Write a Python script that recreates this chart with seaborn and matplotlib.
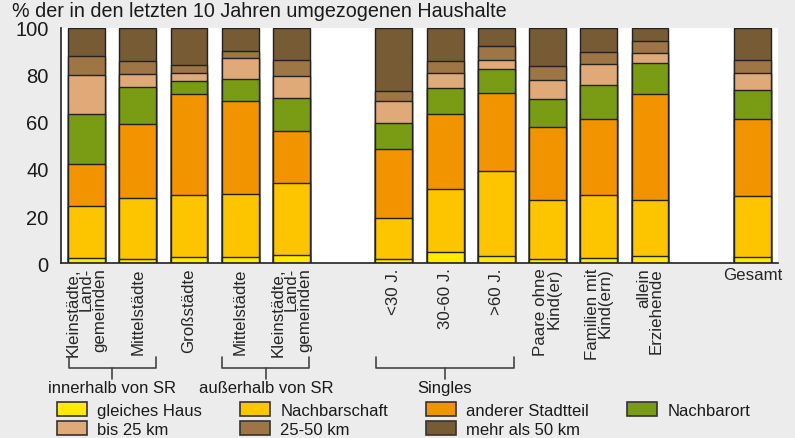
import matplotlib
matplotlib.use("Agg")
import matplotlib.pyplot as plt
import matplotlib.transforms as mtransforms
from matplotlib.patches import Patch
import pandas as pd
import seaborn as sns

# bar labels, left to right (gaps are added in the layout below)
bar_labels = [
    "Kleinstädte,\nLand-\ngemeinden", "Mittelstädte", "Großstädte", "Mittelstädte",
    "Kleinstädte,\nLand-\ngemeinden", "<30 J.", "30-60 J.", ">60 J.",
    "Paare ohne\nKind(er)", "Familien mit\nKind(ern)", "allein\nErziehende", "Gesamt",
]

# shares per category (% of households), bottom to top of each stack
gleiches_haus = [2.0, 1.7, 2.6, 2.4, 3.4, 1.7, 4.8, 3.0, 1.7, 2.1, 3.1, 2.4]
nachbarschaft = [22.4, 26.0, 26.2, 27.0, 30.8, 17.5, 26.6, 36.1, 24.9, 26.9, 23.7, 26.2]
anderer_stadtteil = [17.8, 31.4, 43.1, 39.5, 22.1, 29.5, 32.0, 33.1, 31.2, 32.4, 45.2, 32.8]
nachbarort = [21.3, 15.9, 5.7, 9.5, 14.0, 10.8, 11.2, 10.3, 11.9, 14.5, 13.1, 12.0]
bis_25km = [16.6, 5.4, 3.4, 9.0, 9.4, 9.4, 6.1, 4.0, 8.0, 8.8, 4.4, 7.6]
km_25_50 = [8.0, 5.7, 3.4, 2.7, 6.5, 4.4, 5.2, 5.7, 6.0, 4.9, 4.8, 5.2]
mehr_50km = [11.9, 13.9, 15.6, 9.9, 13.8, 26.7, 14.1, 7.8, 16.3, 10.4, 5.7, 13.8]

layer_names = ["gleiches Haus", "Nachbarschaft", "anderer Stadtteil", "Nachbarort",
               "bis 25 km", "25-50 km", "mehr als 50 km"]
layer_values = [gleiches_haus, nachbarschaft, anderer_stadtteil, nachbarort,
                bis_25km, km_25_50, mehr_50km]
layer_colors = ["#ffea00", "#fdc400", "#f29400", "#7a9c14", "#dfaa78", "#9e7544", "#765b35"]

# group brackets below the labels: (first bar, last bar, text)
brackets = [(0, 1, "innerhalb von SR"), (3, 4, "außerhalb von SR"), (5, 7, "Singles")]
blocks = [5, 6, 1]  # bars per block, separated by an empty slot

sns.set_style("white")
plt.rcParams["font.family"] = ["Liberation Sans", "DejaVu Sans"]
plt.rcParams["text.color"] = "#1a1a1a"

# slot layout with empty gaps between blocks
keys = [f"b{i}" for i in range(len(bar_labels))]
order, slot_of = [], {}
i = 0
for bi, n in enumerate(blocks):
    if bi > 0:
        order.append(f"gap{bi}")
    for _ in range(n):
        slot_of[i] = len(order)
        order.append(keys[i])
        i += 1

df = pd.DataFrame({"key": keys})
for name, vals in zip(layer_names, layer_values):
    df[name] = vals
cum = df[layer_names].cumsum(axis=1)

fig = plt.figure(figsize=(7.95, 4.39), dpi=100, facecolor="#ececec")
ax = fig.add_axes([0.0767, 0.3986, 0.9019, 0.5354])
ax.set_facecolor("white")

# draw totals from the top layer down so lower layers overlay
for name, color in reversed(list(zip(layer_names, layer_colors))):
    sns.barplot(x=df["key"], y=cum[name], order=order, color=color, width=0.72,
                edgecolor="#222222", linewidth=1.0, saturation=1, errorbar=None, ax=ax)

ax.set_xlim(-0.5, len(order) - 0.5)
ax.set_ylim(0, 100)
ax.set_xlabel("")
ax.set_ylabel("")
ax.set_yticks(range(0, 101, 20))
ax.tick_params(axis="y", length=0, pad=9, labelsize=14.5, labelcolor="#1a1a1a")

ax.set_xticks([slot_of[k] for k in range(len(bar_labels))])
ax.set_xticklabels(bar_labels, rotation=90, fontsize=12.2, va="top", ha="center",
                   linespacing=0.85)
for lbl in ax.get_xticklabels():
    lbl.set_multialignment("right")
ax.get_xticklabels()[-1].set_rotation(0)
ax.tick_params(axis="x", length=0, pad=3)
ax.set_xticks([s - 0.5 for s in range(1, len(order) + 1)], minor=True)
ax.tick_params(axis="x", which="minor", direction="in", length=4.5, width=1, color="#222222")

for side in ["top", "right"]:
    ax.spines[side].set_visible(False)
for side in ["left", "bottom"]:
    ax.spines[side].set_color("#222222")
    ax.spines[side].set_linewidth(1.2)

fig.text(0.015, 0.973, "% der in den letzten 10 Jahren umgezogenen Haushalte",
         fontsize=14.2, va="center", ha="left")

# brackets grouping the bars
trans = mtransforms.blended_transform_factory(ax.transData, fig.transFigure)
for first, last, text in brackets:
    x0 = slot_of[first] - 0.35
    x1 = slot_of[last] + 0.35
    xm = (x0 + x1) / 2
    ax.plot([x0, x0, x1, x1], [0.1845, 0.1595, 0.1595, 0.1845], color="#444444",
            lw=1.2, transform=trans, clip_on=False)
    ax.plot([xm, xm], [0.1595, 0.1344], color="#444444", lw=1.2,
            transform=trans, clip_on=False)
    ax.text(xm, 0.114, text, fontsize=12, ha="center", va="center", transform=trans)

# legend fills column by column: two rows, four columns
legend_order = [0, 4, 1, 5, 2, 6, 3]
handles = [Patch(facecolor=layer_colors[k], edgecolor="#333333", linewidth=1.2)
           for k in legend_order]
fig.legend(handles, [layer_names[k] for k in legend_order], ncol=4, loc="upper left",
           bbox_to_anchor=(0.0717, 0.081), frameon=False, fontsize=12,
           handlelength=1.8, handleheight=0.9, handletextpad=0.6, columnspacing=2.3,
           labelspacing=0.2, borderpad=0, borderaxespad=0)

fig.savefig("out.png", dpi=100, facecolor=fig.get_facecolor())
